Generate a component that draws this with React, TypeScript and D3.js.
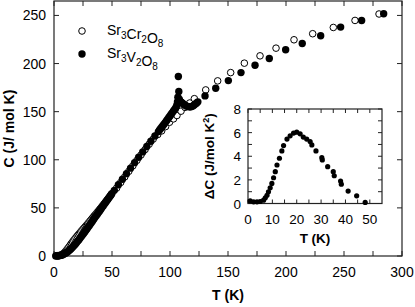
import React from "react";
import * as d3 from "d3";

// Sr3V2O8 (filled)
const vT = [1.5, 2.5, 3.5, 4.5, 5.5, 6.5, 7.5, 8.5, 9.5, 10.5, 11.5, 12.5, 13.5, 14.5, 15.5, 16.5, 17.5, 18.5, 19.5, 20.5, 21.5, 22.5, 23.5, 24.5, 25.5, 26.5, 27.5, 28.5, 29.5, 30.5, 31.5, 32.5, 33.5, 34.5, 35.5, 36.5, 37.5, 38.5, 39.5, 40.5, 41.5, 42.5, 43.5, 44.5, 45.5, 46.5, 47.5, 48.5, 49.5,
  52, 55.5, 59, 62.5, 66, 69.5, 73, 76.5, 80, 83.5, 87, 90, 91, 92, 93, 94, 95, 96, 97, 98, 99, 100, 101, 102, 103, 104, 105,
  105.8, 106.4, 106.8, 107.2, 107.6, 108.0, 108.6, 109.4, 110.2, 111, 112, 113, 114, 115, 116, 117, 118, 119, 120, 121, 122, 123, 124,
  130.2, 139.4, 150.3, 161.2, 173.3, 185.6, 199.7, 214, 229.9, 247.1, 265.2, 284.2];
const vC = [0.1, 0.1, 0.2, 0.3, 0.6, 0.9, 1.4, 2.0, 2.6, 3.4, 4.2, 5.2, 6.2, 7.4, 8.6, 9.9, 11.2, 12.6, 14.0, 15.5, 17.0, 18.6, 20.2, 21.8, 23.4, 25.0, 26.7, 28.4, 30.1, 31.8, 33.5, 35.2, 37.0, 38.7, 40.4, 42.0, 43.7, 45.4, 47.1, 48.8, 50.6, 52.3, 54.0, 55.6, 57.3, 59.0, 60.7, 62.4, 64.1,
  68.2, 74.0, 79.8, 85.6, 91.3, 97.0, 102.6, 108.2, 113.8, 119.3, 124.7, 129.3, 130.9, 132.5, 134.1, 135.7, 137.3, 138.9, 140.6, 142.2, 143.9, 145.6, 147.3, 149.0, 150.7, 152.4, 154.1,
  156.4, 160.0, 165.0, 186.5, 171.0, 163.0, 161.0, 160.2, 159.4, 158.5, 157.6, 156.8, 156.0, 155.5, 155.2, 155.0, 155.1, 155.5, 156.2, 157.1, 158.1, 159.1, 160.2,
  166.4, 174.4, 182.3, 190.6, 198.3, 205.2, 214.3, 220.8, 228.9, 237.9, 244.8, 251.8];

// Sr3Cr2O8 (open)
const crT = [2, 3, 4, 5, 6, 7, 8, 9, 10, 11, 12, 13, 14, 15, 16, 17, 18, 19, 20, 21, 22, 23, 24, 25, 26, 27, 28, 29, 30, 31, 32, 33, 34, 35, 36, 37, 38, 39, 40, 41, 42, 43, 44, 45, 46, 47, 48, 49, 50,
  54, 57.5, 61, 64.5, 68, 71.5, 75, 78.5, 82, 85.5, 89.4, 92.8, 96.2, 99.6, 103, 106, 109.5, 113, 117, 121,
  130.8, 141.1, 152.3, 164.1, 177.6, 191.4, 206.9, 223, 240.8, 259.5, 280.2];
const crC = [0.25, 0.3, 0.4, 0.6, 1.0, 1.6, 2.5, 3.6, 4.9, 6.4, 8.0, 9.6, 11.3, 13.1, 14.7, 16.3, 17.8, 19.3, 20.8, 22.2, 23.6, 25.0, 26.5, 27.9, 29.2, 30.6, 32.0, 33.3, 34.8, 36.3, 37.7, 39.2, 40.7, 42.2, 43.5, 45.0, 46.4, 47.9, 49.4, 50.9, 52.4, 54.0, 55.5, 57.1, 58.6, 60.2, 61.7, 63.3, 65.0,
  70.6, 76.4, 82.2, 88.0, 93.7, 99.4, 105.0, 110.6, 116.2, 121.5, 126.2, 130.0, 134.5, 139.0, 142.5, 146.0, 150.5, 154.5, 159.0, 163.5,
  172.6, 182.0, 190.6, 200.4, 208.0, 216.0, 224.7, 231.0, 237.5, 244.8, 251.5];

// inset: delta C
const dT = [0.9, 2.3, 3.7, 5.0, 6.4, 7.1, 7.8, 8.4, 9.1, 9.8, 10.5, 11.2, 11.9, 12.9, 13.9, 14.6, 16.0, 17.3, 18.7, 20.0, 21.4, 22.7, 24.1, 25.5, 26.2, 27.9, 30.3, 30.5, 32.7, 35.0, 35.4, 38.0, 38.3, 41.1, 44.6, 48.1];
const dC = [0.22, 0.14, 0.14, 0.17, 0.28, 0.48, 0.7, 0.99, 1.33, 1.7, 2.18, 2.69, 3.26, 3.83, 4.45, 4.9, 5.45, 5.73, 5.96, 6.04, 5.9, 5.62, 5.45, 5.25, 4.96, 4.45, 3.88, 3.69, 3.12, 2.69, 2.35, 1.9, 1.64, 1.05, 0.65, 0.09];

const xTicks = [0, 50, 100, 150, 200, 250, 300];
const xMinor = [25, 75, 125, 175, 225, 275];
const yTicks = [0, 50, 100, 150, 200, 250];
const inXTicks = [0, 10, 20, 30, 40, 50];
const inXMinor = [5, 15, 25, 35, 45];
const inYTicks = [0, 2, 4, 6, 8];
const inYMinor = [1, 3, 5, 7];

const FONT = "Liberation Sans, Arial, Helvetica, sans-serif";
const AX = "#222";

function Sub({ base, sub }: { base: string; sub: string }) {
  return (
    <>
      <tspan>{base}</tspan>
      <tspan fontSize={10} dy={4}>{sub}</tspan>
      <tspan dy={-4}></tspan>
    </>
  );
}

export default function App() {
  const x = d3.scaleLinear().domain([0, 300]).range([54, 402]);
  const y = d3.scaleLinear().domain([0, 265]).range([256, 1]);
  const ix = d3.scaleLinear().domain([0, 55]).range([248, 382]);
  const iy = d3.scaleLinear().domain([0, 8]).range([203.5, 109]);

  const [x0, x1] = x.range();
  const [y0, y1] = y.range();
  const [ix0, ix1] = ix.range();
  const [iy0, iy1] = iy.range();
  const tl = 5;

  return (
    <svg width={415} height={307} style={{ position: "absolute", left: 0, top: 0, background: "#fff" }} fontFamily={FONT}>
      {/* main frame */}
      <rect x={x0} y={y1} width={x1 - x0} height={y0 - y1} fill="none" stroke={AX} strokeWidth={1.2} />
      {[...xTicks, ...xMinor].map((t) => (
        <g key={"xt" + t}>
          <line x1={x(t)} x2={x(t)} y1={y0} y2={y0 - tl} stroke={AX} />
          <line x1={x(t)} x2={x(t)} y1={y1} y2={y1 + tl} stroke={AX} />
        </g>
      ))}
      {yTicks.map((t) => (
        <g key={"yt" + t}>
          <line x1={x0} x2={x0 + tl} y1={y(t)} y2={y(t)} stroke={AX} />
          <line x1={x1} x2={x1 - tl} y1={y(t)} y2={y(t)} stroke={AX} />
        </g>
      ))}
      {xTicks.map((t) => (
        <text key={"xl" + t} x={x(t)} y={277} fontSize={14} textAnchor="middle" fill="#000">{t}</text>
      ))}
      {yTicks.map((t) => (
        <text key={"yl" + t} x={46} y={y(t) + 5} fontSize={14} textAnchor="end" fill="#000">{t}</text>
      ))}
      <text x={(x0 + x1) / 2} y={300} fontSize={14} fontWeight="bold" textAnchor="middle">T (K)</text>
      <text transform={`translate(14,${(y0 + y1) / 2}) rotate(-90)`} fontSize={14} fontWeight="bold" textAnchor="middle">C (J/ mol K)</text>

      {/* data */}
      {crT.map((t, i) => (
        <circle key={"cr" + i} cx={x(t)} cy={y(crC[i])} r={3.3} fill="#fff" stroke="#000" strokeWidth={1} />
      ))}
      {vT.map((t, i) => (
        <circle key={"v" + i} cx={x(t)} cy={y(vC[i])} r={3.7} fill="#000" />
      ))}

      {/* legend */}
      <circle cx={82} cy={31} r={3.3} fill="#fff" stroke="#000" strokeWidth={1} />
      <text x={107} y={35} fontSize={14}>
        <Sub base="Sr" sub="3" /><Sub base="Cr" sub="2" /><Sub base="O" sub="8" />
      </text>
      <circle cx={82} cy={54} r={3.7} fill="#000" />
      <text x={107} y={58} fontSize={14}>
        <Sub base="Sr" sub="3" /><Sub base="V" sub="2" /><Sub base="O" sub="8" />
      </text>

      {/* inset */}
      <rect x={ix0} y={iy1} width={ix1 - ix0} height={iy0 - iy1} fill="#fff" stroke={AX} strokeWidth={1.2} />
      {[...inXTicks, ...inXMinor].map((t) => (
        <g key={"ixt" + t}>
          <line x1={ix(t)} x2={ix(t)} y1={iy0} y2={iy0 - 4} stroke={AX} />
          <line x1={ix(t)} x2={ix(t)} y1={iy1} y2={iy1 + 4} stroke={AX} />
        </g>
      ))}
      {[...inYTicks, ...inYMinor].map((t) => (
        <g key={"iyt" + t}>
          <line x1={ix0} x2={ix0 + 4} y1={iy(t)} y2={iy(t)} stroke={AX} />
          <line x1={ix1} x2={ix1 - 4} y1={iy(t)} y2={iy(t)} stroke={AX} />
        </g>
      ))}
      {inXTicks.map((t) => (
        <text key={"ixl" + t} x={ix(t)} y={224} fontSize={13.5} textAnchor="middle">{t}</text>
      ))}
      {inYTicks.map((t) => (
        <text key={"iyl" + t} x={241} y={iy(t) + 5} fontSize={13.5} textAnchor="end">{t}</text>
      ))}
      <text x={(ix0 + ix1) / 2} y={243} fontSize={13.5} fontWeight="bold" textAnchor="middle">T (K)</text>
      <text transform={`translate(214,${(iy0 + iy1) / 2}) rotate(-90)`} fontSize={13.5} fontWeight="bold" textAnchor="middle">
        ΔC (J/mol K<tspan fontSize={9} dy={-5}>2</tspan><tspan dy={5}>)</tspan>
      </text>
      {dT.map((t, i) => (
        <circle key={"d" + i} cx={ix(t)} cy={iy(dC[i])} r={2.6} fill="#000" />
      ))}
    </svg>
  );
}
